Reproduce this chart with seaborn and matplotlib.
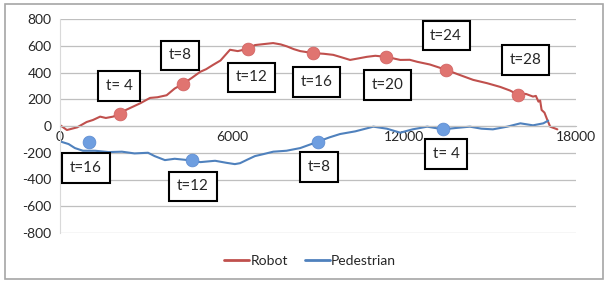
import matplotlib
matplotlib.use("Agg")
import matplotlib.pyplot as plt
import seaborn as sns
import pandas as pd
from matplotlib.patches import Rectangle
from matplotlib.lines import Line2D

# ---- data ----
robot_x = [0, 240, 600, 930, 1150, 1400, 1600, 1850, 2094, 2300, 2550, 2800, 3140, 3400,
           3720, 4000, 4290, 4600, 4890, 5100, 5340, 5600, 5930, 6200,
           6560, 6800, 7090, 7435, 7700, 7920, 8150, 8380, 8830, 9200, 9530, 9800, 10120,
           10400, 10700, 11000, 11380, 11870, 12200, 12460, 12900,
           13470, 13900, 14410, 14900, 15360, 15700, 15990, 16250, 16500, 16600, 16690,
           16750, 16800, 16900, 17000, 17100, 17350]
robot_y = [7, -30, -10, 30, 45, 70, 60, 70, 90, 120, 145, 170, 210, 215,
           230, 280, 315, 360, 405, 425, 457, 490, 570, 560,
           577, 605, 612, 620, 610, 595, 575, 560, 545, 540, 532, 515, 494,
           505, 517, 525, 517, 494, 495, 480, 460,
           420, 385, 345, 320, 292, 265, 232, 240, 220, 225, 182,
           190, 120, 100, 45, -5, -25]

ped_x = [0, 300, 520, 800, 1220, 1700, 2160, 2600, 3070, 3300, 3660, 4000, 4470, 4900, 5410,
         5800, 6100, 6280, 6550, 6800, 7100, 7440, 7900, 8380,
         9000, 9400, 9770, 10300, 10930, 11400, 11870, 12300, 12810, 13370, 13800, 14300, 14700,
         15100, 15600, 16060, 16500, 16860, 17030]
ped_y = [-115, -135, -165, -185, -185, -195, -192, -205, -200, -225, -255, -245, -255, -270, -260,
         -275, -285, -278, -250, -225, -210, -192, -185, -165,
         -117, -85, -60, -40, -5, -20, -50, -25, -5, -25, -15, -5, -20,
         -25, -5, 20, 5, 20, 40]

robot_mark_x = [2094, 4290, 6560, 8830, 11380, 13470, 15990]
robot_mark_y = [90, 315, 577, 545, 517, 420, 232]
ped_mark_x = [1010, 4600, 9000, 13370]
ped_mark_y = [-120, -255, -117, -25]

robot_labels = ["t= 4", "t=8", "t=12", "t=16", "t=20", "t=24", "t=28"]
robot_label_x = [2060, 4190, 6670, 8940, 11420, 13470, 16230]
robot_label_y = [300, 528, 363, 330, 307, 674, 494]
ped_labels = ["t=16", "t=12", "t=8", "t= 4"]
ped_label_x = [907, 4640, 9040, 13470]
ped_label_y = [-315, -450, -307, -210]

x_ticks = [0, 6000, 12000, 18000]
y_ticks = [-800, -600, -400, -200, 0, 200, 400, 600, 800]

RED = "#C0504D"
BLUE = "#4F81BD"

sns.set_style("white")
plt.rcParams["font.family"] = ["Lato", "DejaVu Sans"]

fig = plt.figure(figsize=(6.07, 2.82), dpi=100)
ax = fig.add_axes([60/607, 1-233/282, (576-60)/607, (233-19)/282])

robot_df = pd.DataFrame({"x": robot_x, "y": robot_y})
ped_df = pd.DataFrame({"x": ped_x, "y": ped_y})
sns.lineplot(data=robot_df, x="x", y="y", ax=ax, color=RED, lw=1.5, sort=False)
sns.lineplot(data=ped_df, x="x", y="y", ax=ax, color=BLUE, lw=1.5, sort=False)
sns.scatterplot(x=robot_mark_x, y=robot_mark_y, ax=ax, color="#E07470", s=85,
                edgecolor="#D06060", linewidth=0.5, zorder=5)
sns.scatterplot(x=ped_mark_x, y=ped_mark_y, ax=ax, color="#6E9EE0", s=85,
                edgecolor="#5A8AD0", linewidth=0.5, zorder=5)

box = dict(boxstyle="square,pad=0.5", fc="white", ec="black", lw=1.5)
for t, x, y in zip(robot_labels, robot_label_x, robot_label_y):
    ax.text(x, y, t, ha="center", va="center", fontsize=11, bbox=box, zorder=6)
for t, x, y in zip(ped_labels, ped_label_x, ped_label_y):
    ax.text(x, y, t, ha="center", va="center", fontsize=11, bbox=box, zorder=6)

ax.set_xlim(0, 18000)
ax.set_ylim(-800, 800)
ax.set_xticks(x_ticks)
ax.set_xticklabels([str(v) for v in x_ticks])
ax.set_yticks(y_ticks)
ax.set_yticklabels([str(v) for v in y_ticks])
ax.set_xlabel("")
ax.set_ylabel("")
ax.grid(axis="y", color="#BFBFBF", lw=0.9)
ax.grid(axis="x", visible=False)
for s in ["top", "right"]:
    ax.spines[s].set_visible(False)
ax.spines["bottom"].set_position(("data", 0))
ax.spines["bottom"].set_color("#BFBFBF")
ax.spines["left"].set_color("#D9D9D9")
ax.tick_params(axis="x", direction="inout", length=5, color="#BFBFBF", labelsize=10, pad=1)
ax.tick_params(axis="y", length=0, labelsize=10, pad=6)
ax.set_axisbelow(True)

handles = [Line2D([], [], color=RED, lw=2), Line2D([], [], color=BLUE, lw=2)]
fig.legend(handles, ["Robot", "Pedestrian"], loc="center", bbox_to_anchor=(310/607, 1-261/282),
           ncol=2, frameon=False, fontsize=10, handlelength=1.8, handletextpad=0.1,
           columnspacing=1.2)

fig.patches.append(Rectangle((5/607, 3/282), 598/607, 275/282, transform=fig.transFigure,
                             fill=False, ec="#A6A6A6", lw=1.2))

fig.savefig("out.png", dpi=100)
